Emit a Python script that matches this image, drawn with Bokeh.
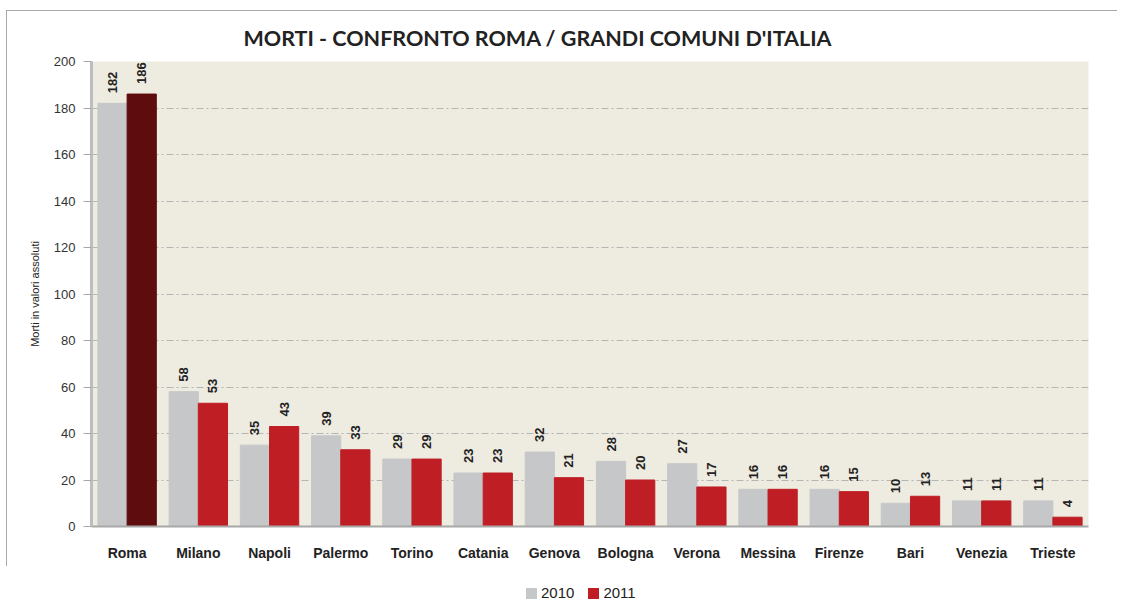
import math
from bokeh.plotting import figure
from bokeh.layouts import column
from bokeh.models import ColumnDataSource, FactorRange, Range1d, Title, FixedTicker, Div
from bokeh.transform import dodge
from bokeh.core.properties import value
from bokeh.embed import file_html
from bokeh.resources import INLINE

cities = ["Roma", "Milano", "Napoli", "Palermo", "Torino", "Catania", "Genova",
          "Bologna", "Verona", "Messina", "Firenze", "Bari", "Venezia", "Trieste"]
deaths_2010 = [182, 58, 35, 39, 29, 23, 32, 28, 27, 16, 16, 10, 11, 11]
deaths_2011 = [186, 53, 43, 33, 29, 23, 21, 20, 17, 16, 15, 13, 11, 4]
y_ticks = [0, 20, 40, 60, 80, 100, 120, 140, 160, 180, 200]
series_names = ["2010", "2011"]

GREY = "#C6C7C9"
RED = "#BE1E24"
DARK = "#5E0C0E"
FONT = "Liberation Sans"
colors_2011 = [DARK if c == "Roma" else RED for c in cities]

src = ColumnDataSource(dict(city=cities, v10=deaths_2010, v11=deaths_2011,
                            c11=colors_2011,
                            l10=[str(v) for v in deaths_2010],
                            l11=[str(v) for v in deaths_2011]))

p = figure(frame_width=997, frame_height=465, x_range=FactorRange(*cities), y_range=Range1d(0, 200),
           output_backend="svg", toolbar_location=None,
           min_border_left=91, min_border_right=29, min_border_top=61, min_border_bottom=40)

p.background_fill_color = "#EEEBE0"
p.border_fill_alpha = 0
p.outline_line_color = None
p.styles = {"background": "linear-gradient(#A8A8A8,#A8A8A8) 6px 10px / 1px 100% no-repeat, "
                          "linear-gradient(#A8A8A8,#A8A8A8) 6px 10px / 100% 1px no-repeat, white"}

bw = 0.41
p.vbar(x=dodge("city", -bw / 2, range=p.x_range), top="v10", width=bw, source=src,
       fill_color=GREY, line_color=GREY)
p.vbar(x=dodge("city", bw / 2, range=p.x_range), top="v11", width=bw, source=src,
       fill_color="c11", line_color="c11")

for col, off in (("v10", -bw / 2), ("v11", bw / 2)):
    p.text(x=dodge("city", off, range=p.x_range), y=col, text="l" + col[1:], source=src,
           angle=math.pi / 2, text_align="left", text_baseline="middle",
           x_offset=0, y_offset=-10, text_font=value(FONT),
           text_font_style="bold", text_font_size="13px", text_color="#222222")

# grid
p.xgrid.grid_line_color = None
p.ygrid.ticker = FixedTicker(ticks=y_ticks)
p.ygrid.grid_line_color = "#B5B5B5"
p.ygrid.grid_line_dash = "7 3 2 3"
p.ygrid.grid_line_width = 1

# y axis
p.yaxis.ticker = FixedTicker(ticks=y_ticks)
p.yaxis.axis_line_color = "#BDBDBD"
p.yaxis.axis_line_width = 3
p.yaxis.major_tick_line_color = "#A8A8A8"
p.yaxis.major_tick_out = 8
p.yaxis.major_tick_in = 0
p.yaxis.minor_tick_line_color = None
p.yaxis.major_label_text_font = FONT
p.yaxis.major_label_text_font_size = "13px"
p.yaxis.major_label_text_color = "#333333"
p.yaxis.major_label_standoff = 8
p.yaxis.axis_label = "Morti in valori assoluti"
p.yaxis.axis_label_text_font = FONT
p.yaxis.axis_label_text_font_size = "11px"
p.yaxis.axis_label_text_font_style = "normal"
p.yaxis.axis_label_text_color = "#222222"
p.yaxis.axis_label_standoff = 10

# x axis
p.xaxis.axis_line_color = "#A8A8A8"
p.xaxis.axis_line_width = 2
p.xaxis.major_tick_line_color = None
p.xaxis.minor_tick_line_color = None
p.xaxis.major_label_text_font = FONT
p.xaxis.major_label_text_font_style = "bold"
p.xaxis.major_label_text_font_size = "14px"
p.xaxis.major_label_text_color = "#222222"
p.xaxis.major_label_standoff = 12

# title
t = Title(text="MORTI - CONFRONTO ROMA / GRANDI COMUNI D'ITALIA", align="left", offset=152,
          text_font="Lato", text_font_style="bold", text_font_size="21.5px",
          text_color="#222222", standoff=22)
p.add_layout(t, "above")

# legend (HTML, below the chart)
sw = ('<span style="display:inline-block;width:11px;height:11px;background:{c};'
      'margin-right:4px;vertical-align:-1px;"></span>')
legend_html = (sw.format(c=GREY) + series_names[0] +
               '<span style="display:inline-block;width:14px;"></span>' +
               sw.format(c=RED) + series_names[1])
legend_div = Div(text=legend_html, width=130, height=20,
                 styles={"position": "absolute", "left": "521px", "top": "578px",
                         "font-family": FONT, "font-size": "15px", "color": "#222222",
                         "line-height": "20px", "white-space": "nowrap"})

open("out.html", "w").write(file_html(column(p, legend_div), INLINE))
